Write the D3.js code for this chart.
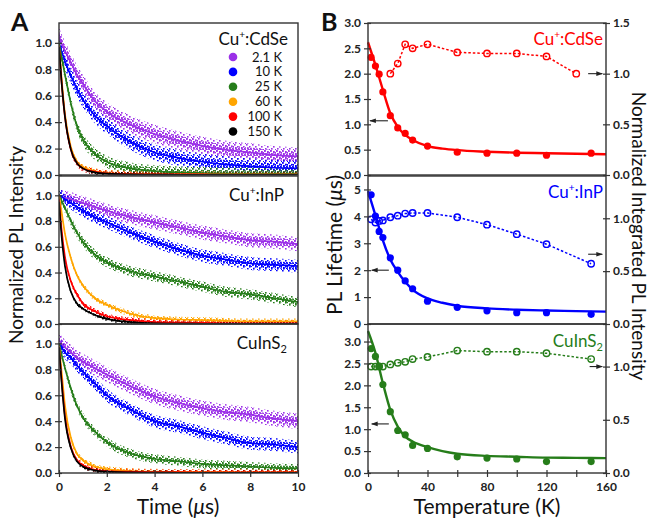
<!DOCTYPE html>
<html>
<head>
<meta charset="utf-8">
<script src="https://cdn.jsdelivr.net/npm/d3@7"></script>
<style>
body { margin: 0; background: #fff; }
#chart { width: 653px; height: 521px; }
text { font-family: Lato, "DejaVu Sans", sans-serif; }
</style>
</head>
<body>
<div id="chart"></div>
<script>

/* DATA: panel A, normalized PL decays */
const times = [0, 0.1, 0.25, 0.5, 0.75, 1, 1.5, 2, 3, 4, 5, 6, 7, 8, 9, 10];
const tempLabels = ["2.1 K", "10 K", "25 K", "60 K", "100 K", "150 K"];
const decayColors = ["#9b30e8", "#0000ff", "#267d1a", "#ffa500", "#ff0000", "#000000"];

const cdseDecay = [
    [1.05, 1.0, 0.94, 0.85, 0.76, 0.69, 0.56, 0.48, 0.38, 0.31, 0.26, 0.22, 0.19, 0.17, 0.15, 0.14],
    [1.0, 0.94, 0.86, 0.75, 0.65, 0.57, 0.45, 0.37, 0.25, 0.17, 0.13, 0.10, 0.08, 0.065, 0.055, 0.05],
    [1.0, 0.9, 0.76, 0.54, 0.37, 0.27, 0.16, 0.10, 0.05, 0.03, 0.02, 0.015, 0.012, 0.01, 0.01, 0.01],
    [0.98, 0.75, 0.46, 0.21, 0.10, 0.06, 0.03, 0.015, 0.008, 0.005, 0.004, 0.004, 0.003, 0.003, 0.003, 0.003],
    [0.97, 0.72, 0.44, 0.19, 0.09, 0.05, 0.025, 0.012, 0.007, 0.005, 0.004, 0.004, 0.003, 0.003, 0.003, 0.003],
    [0.97, 0.72, 0.44, 0.19, 0.09, 0.05, 0.02, 0.01, 0.005, 0.003, 0.002, 0.002, 0.002, 0.002, 0.002, 0.002]
];
const cdseNoise = [0.07, 0.06, 0.045, 0.022, 0.022, 0.016];

const inpDecay = [
    [1.0, 0.99, 0.98, 0.97, 0.955, 0.94, 0.91, 0.88, 0.83, 0.79, 0.75, 0.71, 0.68, 0.65, 0.64, 0.62],
    [1.0, 0.99, 0.97, 0.94, 0.91, 0.88, 0.83, 0.79, 0.71, 0.64, 0.58, 0.53, 0.50, 0.47, 0.46, 0.45],
    [1.0, 0.96, 0.90, 0.80, 0.71, 0.64, 0.54, 0.48, 0.41, 0.37, 0.33, 0.29, 0.25, 0.23, 0.20, 0.17],
    [1.0, 0.88, 0.70, 0.51, 0.38, 0.30, 0.20, 0.15, 0.08, 0.045, 0.035, 0.03, 0.025, 0.02, 0.02, 0.02],
    [0.97, 0.75, 0.52, 0.33, 0.23, 0.16, 0.10, 0.06, 0.03, 0.015, 0.01, 0.008, 0.006, 0.005, 0.005, 0.005],
    [0.95, 0.70, 0.45, 0.25, 0.16, 0.12, 0.07, 0.04, 0.015, 0.005, 0.003, 0.002, 0.002, 0.002, 0.002, 0.002]
];
const inpNoise = [0.055, 0.05, 0.04, 0.022, 0.022, 0.016];

const cuinsDecay = [
    [1.03, 1.0, 0.97, 0.93, 0.89, 0.86, 0.81, 0.76, 0.67, 0.59, 0.54, 0.50, 0.47, 0.45, 0.42, 0.40],
    [1.0, 0.97, 0.93, 0.89, 0.83, 0.78, 0.69, 0.60, 0.49, 0.40, 0.36, 0.31, 0.27, 0.23, 0.22, 0.20],
    [1.0, 0.92, 0.81, 0.65, 0.52, 0.43, 0.32, 0.24, 0.15, 0.11, 0.09, 0.07, 0.06, 0.05, 0.04, 0.035],
    [0.98, 0.80, 0.52, 0.27, 0.15, 0.10, 0.05, 0.03, 0.015, 0.01, 0.008, 0.007, 0.006, 0.005, 0.005, 0.005],
    [0.97, 0.74, 0.44, 0.20, 0.10, 0.06, 0.025, 0.015, 0.01, 0.007, 0.006, 0.005, 0.005, 0.005, 0.005, 0.005],
    [0.97, 0.72, 0.42, 0.19, 0.09, 0.05, 0.02, 0.01, 0.005, 0.003, 0.002, 0.002, 0.002, 0.002, 0.002, 0.002]
];
const cuinsNoise = [0.06, 0.05, 0.035, 0.022, 0.022, 0.016];

/* DATA: panel B, lifetimes and integrated intensities vs temperature */
const temps = [2.1, 5, 7.5, 10, 15, 20, 25, 30, 40, 60, 80, 100, 120, 150];
const cdseLifetime = [2.32, 2.15, 1.99, 1.64, 1.17, 0.93, 0.82, 0.69, 0.57, 0.45, 0.43, 0.43, 0.39, 0.43];
const inpLifetime = [4.80, 4.01, 3.44, 3.21, 2.46, 2.0, 1.60, 1.31, 0.85, 0.62, 0.49, 0.42, 0.42, 0.36];
const cuinsLifetime = [2.84, 2.66, 2.44, 2.02, 1.40, 0.97, 0.87, 0.63, 0.56, 0.37, 0.34, 0.32, 0.26, 0.26];

const cdseIntTemps = [15, 20, 25, 30, 40, 60, 80, 100, 120, 140];
const cdseIntensity = [1.0, 1.10, 1.29, 1.25, 1.29, 1.21, 1.20, 1.20, 1.17, 1.0];
const inpIntensity = [0.99, 0.96, 0.975, 0.98, 1.01, 1.025, 1.045, 1.05, 1.05, 1.01, 0.94, 0.85, 0.755, 0.57];
const cuinsIntensity = [1.0, 1.0, 1.0, 1.0, 1.02, 1.035, 1.045, 1.07, 1.09, 1.15, 1.14, 1.14, 1.125, 1.07];

const fitTemps = [0, 5, 10, 15, 20, 25, 30, 40, 50, 60, 80, 100, 120, 140, 160];
const cdseFit = [2.62, 2.17, 1.68, 1.22, 0.95, 0.79, 0.69, 0.57, 0.52, 0.49, 0.46, 0.44, 0.43, 0.42, 0.41];
const inpFit = [4.94, 4.04, 3.11, 2.40, 1.94, 1.57, 1.28, 0.95, 0.79, 0.68, 0.58, 0.53, 0.50, 0.48, 0.46];
const cuinsFit = [3.24, 2.74, 2.05, 1.44, 1.06, 0.83, 0.72, 0.59, 0.50, 0.44, 0.39, 0.37, 0.35, 0.345, 0.34];

/* SVG CANVAS */
const width = 653, height = 521;
const svg = d3.select("#chart")
    .append("svg")
    .attr("width", width)
    .attr("height", height);
const defs = svg.append("defs");

// speckled fills that stand in for the dense cloud of photon-count points:
// a dense one for the core of each band and a sparse one for its edges
const denseDots = [[0, 0], [3, 1], [1, 3], [4, 4], [2, 5], [5, 2]];
const sparseDots = [[0, 0], [3, 2], [1, 4], [5, 5]];
decayColors.forEach((c, i) => {
    [["dense", denseDots, 1.8], ["sparse", sparseDots, 1.6]].forEach(kind => {
        let p = defs.append("pattern")
            .attr("id", kind[0] + i)
            .attr("patternUnits", "userSpaceOnUse")
            .attr("width", 6).attr("height", 6);
        kind[1].forEach(d => {
            p.append("rect").attr("x", d[0]).attr("y", d[1])
                .attr("width", kind[2]).attr("height", kind[2]).attr("fill", c);
        });
    });
});

defs.append("marker")
    .attr("id", "arrow")
    .attr("viewBox", "0 0 10 10")
    .attr("refX", 9).attr("refY", 5)
    .attr("markerWidth", 6).attr("markerHeight", 6)
    .attr("orient", "auto")
    .append("path")
    .attr("d", "M0,1.5 L10,5 L0,8.5 z")
    .attr("fill", "#222");

/* LAYOUT */
const rows = [[23, 175], [176, 324], [324, 473]];
const axA = [59, 298];
const axB = [368, 606];
const frameColor = "#333";

const xA = d3.scaleLinear().domain([0, 10]).range(axA);
const xB = d3.scaleLinear().domain([0, 160]).range(axB);

function styleTicks(g, size) {
    g.select(".domain").remove();
    g.selectAll("text")
        .style("font-family", "Lato, sans-serif")
        .style("font-size", size + "px")
        .style("font-weight", "bold")
        .style("fill", "#222");
    g.selectAll("line").attr("stroke", frameColor).attr("stroke-width", 1.2);
}

/* PANEL A */
const samplesA = [
    { name: "CdSe", data: cdseDecay, noise: cdseNoise },
    { name: "InP", data: inpDecay, noise: inpNoise },
    { name: "CuInS", data: cuinsDecay, noise: cuinsNoise }
];

samplesA.forEach((s, k) => {
    const y = d3.scaleLinear().domain([0, 1.15]).range([rows[k][1], rows[k][0]]);
    const clipId = "clipA" + k;
    defs.append("clipPath").attr("id", clipId)
        .append("rect")
        .attr("x", axA[0]).attr("y", rows[k][0])
        .attr("width", axA[1] - axA[0]).attr("height", rows[k][1] - rows[k][0]);

    const g = svg.append("g").attr("clip-path", "url(#" + clipId + ")");

    s.data.forEach((vals, i) => {
        let pts = times.map((t, j) => ({ t: t, v: vals[j] }));
        [["sparse", 1.0], ["dense", 0.55]].forEach(b => {
            let band = d3.area()
                .x(d => xA(d.t))
                .y0(d => y(Math.max(-0.02, d.v - s.noise[i] * b[1])))
                .y1(d => y(d.v + s.noise[i] * b[1]))
                .curve(d3.curveMonotoneX);
            g.append("path")
                .datum(pts)
                .attr("d", band)
                .attr("fill", "url(#" + b[0] + i + ")");
        });
    });
    s.data.forEach((vals, i) => {
        let pts = times.map((t, j) => ({ t: t, v: vals[j] }));
        let line = d3.line()
            .x(d => xA(d.t))
            .y(d => y(d.v))
            .curve(d3.curveMonotoneX);
        g.append("path")
            .datum(pts)
            .attr("d", line)
            .attr("fill", "none")
            .attr("stroke", decayColors[i])
            .attr("stroke-width", 1.7);
    });

    // frame
    svg.append("rect")
        .attr("x", axA[0]).attr("y", rows[k][0])
        .attr("width", axA[1] - axA[0]).attr("height", rows[k][1] - rows[k][0])
        .attr("fill", "none").attr("stroke", frameColor).attr("stroke-width", 1.4);

    let yAxis = svg.append("g")
        .attr("transform", "translate(" + axA[0] + ",0)")
        .call(d3.axisLeft(y).tickValues([0, 0.2, 0.4, 0.6, 0.8, 1.0]).tickFormat(d3.format(".1f")).tickSize(4).tickPadding(3));
    styleTicks(yAxis, 12);
    yAxis.selectAll(".tick line").attr("x2", -4).attr("x1", 3);
});

// time axis on the bottom row
let xAxisA = svg.append("g")
    .attr("transform", "translate(0," + rows[2][1] + ")")
    .call(d3.axisBottom(xA).tickValues([0, 2, 4, 6, 8, 10]).tickSize(4).tickPadding(5));
styleTicks(xAxisA, 12);
xAxisA.selectAll(".tick line").attr("y1", -3).attr("y2", 4);

// legend in top panel
const legend = svg.append("g");
tempLabels.forEach((lab, i) => {
    let ly = 57 + i * 14.9;
    legend.append("circle").attr("cx", 233).attr("cy", ly).attr("r", 4.3).attr("fill", decayColors[i]);
    legend.append("text").attr("x", 282).attr("y", ly + 4.5)
        .attr("text-anchor", "end").style("font-size", "13px").style("fill", "#111").text(lab);
});

function sampleLabel(x, y, color, kind) {
    let t = svg.append("text").attr("x", x).attr("y", y)
        .attr("text-anchor", "end").style("font-size", "17px").style("fill", color);
    if (kind === "CuInS2") {
        t.append("tspan").text("CuInS");
        t.append("tspan").attr("dy", 4).style("font-size", "11px").text("2");
    } else {
        t.append("tspan").text("Cu");
        t.append("tspan").attr("dy", -7).style("font-size", "10px").text("+");
        t.append("tspan").attr("dy", 7).text(":" + kind);
    }
}
sampleLabel(288, 45, "#111", "CdSe");
sampleLabel(284, 201, "#111", "InP");
sampleLabel(287, 349, "#111", "CuInS2");

/* PANEL B */
const samplesB = [
    { life: cdseLifetime, fit: cdseFit, intT: cdseIntTemps, inten: cdseIntensity, color: "#ff0000",
      left: [0, 3], right: [0, 1.5], lt: [0, 0.5, 1, 1.5, 2, 2.5, 3], rt: [0, 0.5, 1, 1.5], lf: ".1f",
      arrowL: [13.4, 1.3, 1.07], arrowR: [148, 157.5, 1.0], name: "CdSe" },
    { life: inpLifetime, fit: inpFit, intT: temps, inten: inpIntensity, color: "#0000ff",
      left: [0, 5.5], right: [0, 1.4], lt: [0, 1, 2, 3, 4, 5], rt: [0, 0.5, 1], lf: "d",
      arrowL: [14, 2.5, 2.0], arrowR: [148, 157.5, 0.66], name: "InP" },
    { life: cuinsLifetime, fit: cuinsFit, intT: temps, inten: cuinsIntensity, color: "#267d1a",
      left: [0, 3.4], right: [0, 1.4], lt: [0, 0.5, 1, 1.5, 2, 2.5, 3], rt: [0, 0.5, 1], lf: ".1f",
      arrowL: [14, 2.5, 1.12], arrowR: [149, 157.5, 1.0], name: "CuInS2" }
];

samplesB.forEach((s, k) => {
    const yL = d3.scaleLinear().domain(s.left).range([rows[k][1], rows[k][0]]);
    const yR = d3.scaleLinear().domain(s.right).range([rows[k][1], rows[k][0]]);

    // integrated intensity: open circles on a dotted line
    let intPts = s.intT.map((t, j) => ({ t: t, v: s.inten[j] }));
    svg.append("path")
        .datum(intPts)
        .attr("d", d3.line().x(d => xB(d.t)).y(d => yR(d.v)))
        .attr("fill", "none")
        .attr("stroke", s.color)
        .attr("stroke-width", 1.5)
        .attr("stroke-dasharray", "2.5,2");
    svg.append("g").selectAll("circle")
        .data(intPts).enter()
        .append("circle")
        .attr("cx", d => xB(d.t)).attr("cy", d => yR(d.v))
        .attr("r", 3.2)
        .attr("fill", "none").attr("stroke", s.color).attr("stroke-width", 1.4);

    // lifetime fit and points
    let fitPts = fitTemps.map((t, j) => ({ t: t, v: s.fit[j] }));
    svg.append("path")
        .datum(fitPts)
        .attr("d", d3.line().x(d => xB(d.t)).y(d => yL(d.v)).curve(d3.curveMonotoneX))
        .attr("fill", "none")
        .attr("stroke", s.color)
        .attr("stroke-width", 2.4);
    svg.append("g").selectAll("circle")
        .data(temps.map((t, j) => ({ t: t, v: s.life[j] }))).enter()
        .append("circle")
        .attr("cx", d => xB(d.t)).attr("cy", d => yL(d.v))
        .attr("r", 3.6)
        .attr("fill", s.color);

    // arrows pointing to the axis each series belongs to
    svg.append("line")
        .attr("x1", xB(s.arrowL[0])).attr("x2", xB(s.arrowL[1]))
        .attr("y1", yL(s.arrowL[2])).attr("y2", yL(s.arrowL[2]))
        .attr("stroke", "#222").attr("stroke-width", 1.1).attr("marker-end", "url(#arrow)");
    svg.append("line")
        .attr("x1", xB(s.arrowR[0])).attr("x2", xB(s.arrowR[1]))
        .attr("y1", yR(s.arrowR[2])).attr("y2", yR(s.arrowR[2]))
        .attr("stroke", "#222").attr("stroke-width", 1.1).attr("marker-end", "url(#arrow)");

    svg.append("rect")
        .attr("x", axB[0]).attr("y", rows[k][0])
        .attr("width", axB[1] - axB[0]).attr("height", rows[k][1] - rows[k][0])
        .attr("fill", "none").attr("stroke", frameColor).attr("stroke-width", 1.4);

    let la = svg.append("g")
        .attr("transform", "translate(" + axB[0] + ",0)")
        .call(d3.axisLeft(yL).tickValues(s.lt).tickFormat(d3.format(s.lf)).tickSize(4).tickPadding(3));
    styleTicks(la, 12);
    la.selectAll(".tick line").attr("x2", -4).attr("x1", 3);

    let ra = svg.append("g")
        .attr("transform", "translate(" + axB[1] + ",0)")
        .call(d3.axisRight(yR).tickValues(s.rt).tickFormat(d3.format(".1f")).tickSize(4).tickPadding(3));
    styleTicks(ra, 12);
    ra.selectAll(".tick line").attr("x1", -3).attr("x2", 4);

    sampleLabel(603, [45, 198, 347][k], s.color, s.name);
});

let xAxisB = svg.append("g")
    .attr("transform", "translate(0," + rows[2][1] + ")")
    .call(d3.axisBottom(xB).tickValues(d3.range(0, 161, 20))
        .tickFormat(d => d % 40 === 0 ? d : "").tickSize(4).tickPadding(5));
styleTicks(xAxisB, 12);
xAxisB.selectAll(".tick line").attr("y1", -3).attr("y2", 4);

/* AXIS TITLES AND PANEL LETTERS */
svg.append("text").attr("x", 11).attr("y", 31).style("font-size", "25px").style("font-weight", "bold").style("fill", "#111").text("A");
svg.append("text").attr("x", 321).attr("y", 31).style("font-size", "25px").style("font-weight", "bold").style("fill", "#111").text("B");

function title(x, y, rot, size, parts) {
    let t = svg.append("text")
        .attr("transform", "translate(" + x + "," + y + ") rotate(" + rot + ")")
        .attr("text-anchor", "middle")
        .style("font-size", size + "px")
        .style("fill", "#111");
    parts.forEach(p => {
        let ts = t.append("tspan").text(p[0]);
        if (p[1]) ts.style("font-style", "italic");
    });
}
title(178, 514, 0, 21, [["Time ("], ["\u03bc", true], ["s)"]]);
title(487, 514, 0, 21, [["Temperature (K)"]]);
title(23, 245, -90, 19, [["Normalized PL Intensity"]]);
title(342, 245, -90, 21, [["PL Lifetime ("], ["\u03bc", true], ["s)"]]);
title(632, 236, 90, 19, [["Normalized Integrated PL Intensity"]]);

</script>
</body>
</html>
